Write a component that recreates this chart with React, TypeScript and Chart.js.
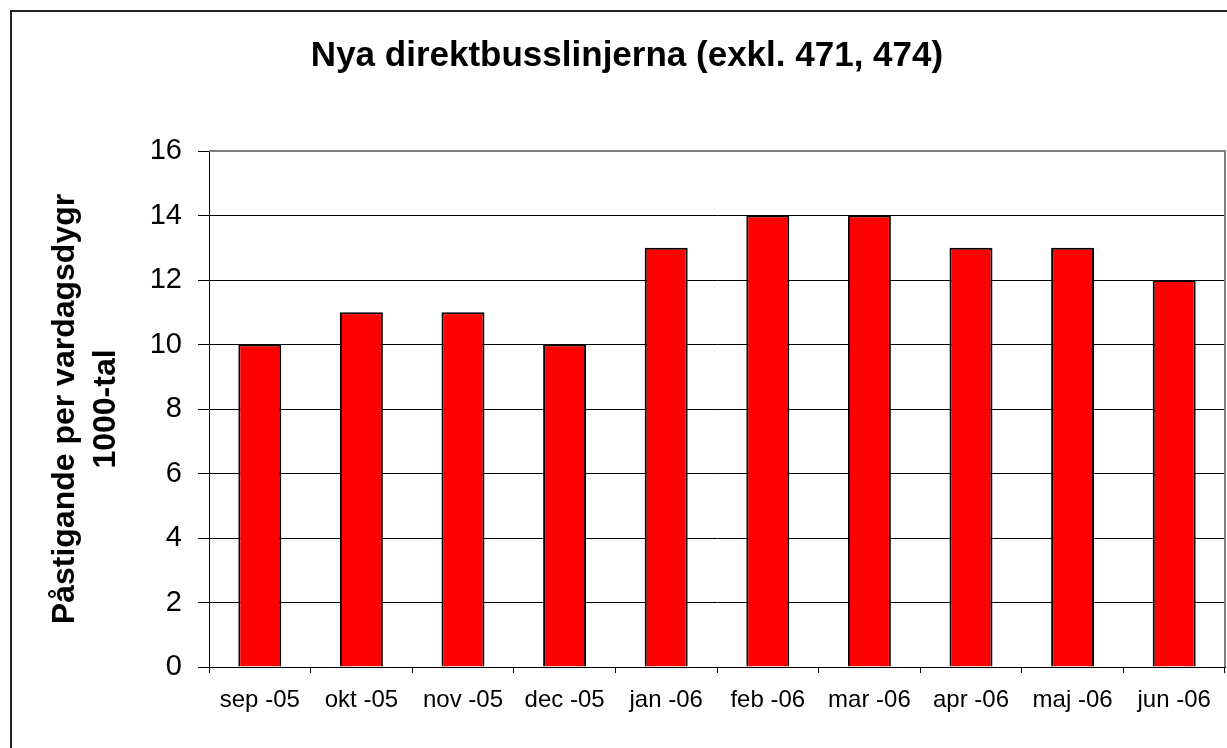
import React, { useEffect, useRef } from "react";
import { Chart, registerables } from "chart.js";

Chart.register(...registerables);

const categories = ["sep -05", "okt -05", "nov -05", "dec -05", "jan -06", "feb -06", "mar -06", "apr -06", "maj -06", "jun -06"];
const values = [10, 11, 11, 10, 13, 14, 14, 13, 13, 12];
const yMin = 0;
const yMax = 16;
const yStep = 2;
const titleText = "Nya direktbusslinjerna (exkl. 471, 474)";
const yTitleLines = ["Påstigande per vardagsdygr", "1000-tal"];

const FONT = "'Liberation Sans', Arial, Helvetica, sans-serif";
const CANVAS_W = 1240;
const CANVAS_H = 736;

const plotBorder = {
  id: "plotBorder",
  afterDraw(chart: any) {
    const { ctx, chartArea } = chart;
    const { left, top, right, bottom } = chartArea;
    ctx.save();
    ctx.strokeStyle = "#808080";
    ctx.lineWidth = 2;
    ctx.beginPath();
    ctx.moveTo(left, top);
    ctx.lineTo(right, top);
    ctx.lineTo(right, bottom);
    ctx.stroke();
    ctx.restore();
  },
};

export default function App() {
  const ref = useRef<HTMLCanvasElement | null>(null);

  useEffect(() => {
    document.body.style.margin = "0";
    document.body.style.overflow = "hidden";
    const canvas = ref.current;
    if (!canvas) return;
    const chart = new Chart(canvas, {
      type: "bar",
      data: {
        labels: categories,
        datasets: [
          {
            data: values,
            backgroundColor: "#FF0000",
            borderColor: "#000000",
            borderWidth: 2,
            barPercentage: 0.423,
            categoryPercentage: 1,
          },
        ],
      },
      options: {
        responsive: false,
        animation: false,
        devicePixelRatio: 1,
        layout: { padding: { left: 17, right: 27, top: 0, bottom: 33 } },
        plugins: {
          legend: { display: false },
          tooltip: { enabled: false },
          title: {
            display: true,
            text: titleText,
            color: "#000",
            font: { family: FONT, size: 35, weight: "bold", lineHeight: 1.2 },
            padding: { top: 23, bottom: 74 },
          },
        },
        scales: {
          x: {
            offset: true,
            grid: {
              display: true,
              drawOnChartArea: false,
              drawTicks: true,
              tickLength: 6,
              color: "#000",
              offset: true,
            },
            border: { display: true, color: "#000", width: 1 },
            ticks: {
              color: "#000",
              font: { family: FONT, size: 24 },
              padding: 13,
              maxRotation: 0,
              autoSkip: false,
            },
            afterFit(scale: any) {
              scale.height = 48;
            },
          },
          y: {
            min: yMin,
            max: yMax,
            grid: {
              color: "#000",
              lineWidth: 1,
              drawTicks: true,
              tickLength: 11,
            },
            border: { display: true, color: "#000", width: 1 },
            ticks: {
              stepSize: yStep,
              color: "#000",
              font: { family: FONT, size: 29 },
              padding: 16,
            },
            title: {
              display: true,
              text: yTitleLines,
              color: "#000",
              font: { family: FONT, size: 32, weight: "bold", lineHeight: 1.3 },
              padding: { top: 15, bottom: 0 },
            },
            afterFit(scale: any) {
              scale.width = 180;
            },
          },
        },
      },
      plugins: [plotBorder],
    });
    return () => chart.destroy();
  }, []);

  return (
    <div
      style={{
        position: "absolute",
        left: 10,
        top: 10,
        width: CANVAS_W,
        height: CANVAS_H + 20,
        border: "2px solid #222",
        background: "#fff",
      }}
    >
      <canvas ref={ref} width={CANVAS_W} height={CANVAS_H} style={{ display: "block", width: CANVAS_W, height: CANVAS_H }} />
    </div>
  );
}
